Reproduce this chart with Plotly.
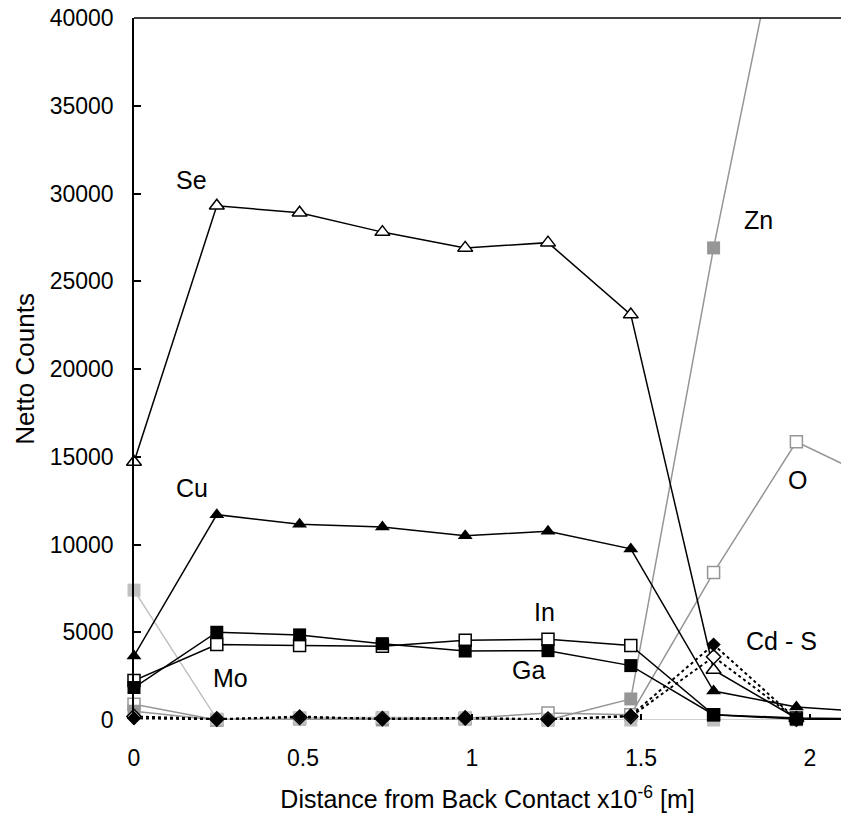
import plotly.graph_objects as go

# Distance from back contact (x10^-6 m)
x = [0, 0.245, 0.49, 0.735, 0.98, 1.225, 1.47, 1.715, 1.96, 2.205]

se = [14700, 29300, 28900, 27800, 26900, 27200, 23100, 2850, 100, None]
cu = [3650, 11700, 11150, 11000, 10500, 10750, 9750, 1650, 740, 430]
in_ = [2250, 4300, 4250, 4200, 4550, 4600, 4250, 300, 120, 60]
ga = [1850, 5000, 4850, 4350, 3930, 3950, 3100, 300, 50, 0]
cd = [100, 30, 200, 50, 100, 0, 250, 4300, 50, None]
s = [200, 60, 150, 80, 120, 50, 200, 3600, 60, None]
mo = [7400, 50, 100, 150, 100, 0, 0, 0, 0, 0]
zn = [500, 0, 50, 0, 50, 0, 1200, 26900, 50000, None]
o = [900, 0, 100, 100, 100, 400, 300, 8400, 15850, 13600]

xticks = [0, 0.5, 1, 1.5, 2]
xticktext = ["0", "0.5", "1", "1.5", "2"]
yticks = [0, 5000, 10000, 15000, 20000, 25000, 30000, 35000, 40000]
yticktext = ["0", "5000", "10000", "15000", "20000", "25000", "30000", "35000", "40000"]

labels = ["Se", "Cu", "In", "Ga", "Mo", "Zn", "O", "Cd - S"]
label_x = [0.17, 0.172, 1.216, 1.166, 0.287, 1.849, 1.964, 1.917]
label_y = [30770, 13220, 6150, 2850, 2400, 28490, 13680, 4500]

GRAY = "#969696"
LGRAY = "#c0c0c0"
FONT = "Arial, Liberation Sans, sans-serif"

fig = go.Figure()

def add(y, name, line, marker):
    fig.add_trace(go.Scatter(x=x, y=y, name=name, mode="lines+markers",
                             line=line, marker=marker, cliponaxis=False,
                             connectgaps=False))

add(o, "O", dict(color=GRAY, width=1.5),
    dict(symbol="square", size=12, color="white", line=dict(color=GRAY, width=1.5)))
add(zn, "Zn", dict(color=GRAY, width=1.5),
    dict(symbol="square", size=13, color=GRAY, line=dict(width=0)))
add(mo, "Mo", dict(color=LGRAY, width=1.5),
    dict(symbol="square", size=13, color=LGRAY, line=dict(width=0)))
add(in_, "In", dict(color="black", width=1.5),
    dict(symbol="square", size=12, color="white", line=dict(color="black", width=1.5)))
add(ga, "Ga", dict(color="black", width=1.5),
    dict(symbol="square", size=13, color="black", line=dict(width=0)))
add(se, "Se", dict(color="black", width=1.5),
    dict(symbol="triangle-up", size=13, color="white", line=dict(color="black", width=1.5)))
add(cu, "Cu", dict(color="black", width=1.5),
    dict(symbol="triangle-up", size=13, color="black", line=dict(width=0)))
add(s, "S", dict(color="black", width=2, dash="dot"),
    dict(symbol="diamond", size=11, color="white", line=dict(color="black", width=1.5)))
add(cd, "Cd", dict(color="black", width=2, dash="dot"),
    dict(symbol="diamond", size=11, color="black", line=dict(width=0)))

for t, lx, ly in zip(labels, label_x, label_y):
    fig.add_annotation(x=lx, y=ly, xref="x", yref="y", text=t, showarrow=False,
                       font=dict(size=25, color="black", family=FONT))

fig.add_shape(type="line", xref="paper", yref="paper", x0=0, x1=1, y0=1, y1=1,
              line=dict(color="black", width=1.5))

fig.update_layout(
    width=841, height=821,
    margin=dict(l=134, r=0, t=18, b=101),
    paper_bgcolor="white", plot_bgcolor="white",
    showlegend=False,
    font=dict(family=FONT, color="black"),
    xaxis=dict(range=[0, 2.092], tickvals=xticks, ticktext=xticktext,
               ticks="inside", ticklen=6, tickwidth=1.5, tickcolor="black",
               showgrid=False, zeroline=False, showline=False,
               tickfont=dict(size=23), ticklabelstandoff=22,
               title=dict(text="Distance from Back Contact x10<sup>-6</sup> [m]",
                          font=dict(size=25), standoff=20)),
    yaxis=dict(range=[0, 40000], tickvals=yticks, ticktext=yticktext,
               ticks="inside", ticklen=7, tickwidth=1.5, tickcolor="black",
               showgrid=False, zeroline=False, showline=True, linecolor="black",
               linewidth=1.5, tickfont=dict(size=23), ticklabelstandoff=14,
               title=dict(text="Netto Counts", font=dict(size=26), standoff=8)),
)

fig.write_html("out.html", config={"displayModeBar": False},
               post_script="document.body.style.margin='0';document.body.style.overflow='hidden';")
